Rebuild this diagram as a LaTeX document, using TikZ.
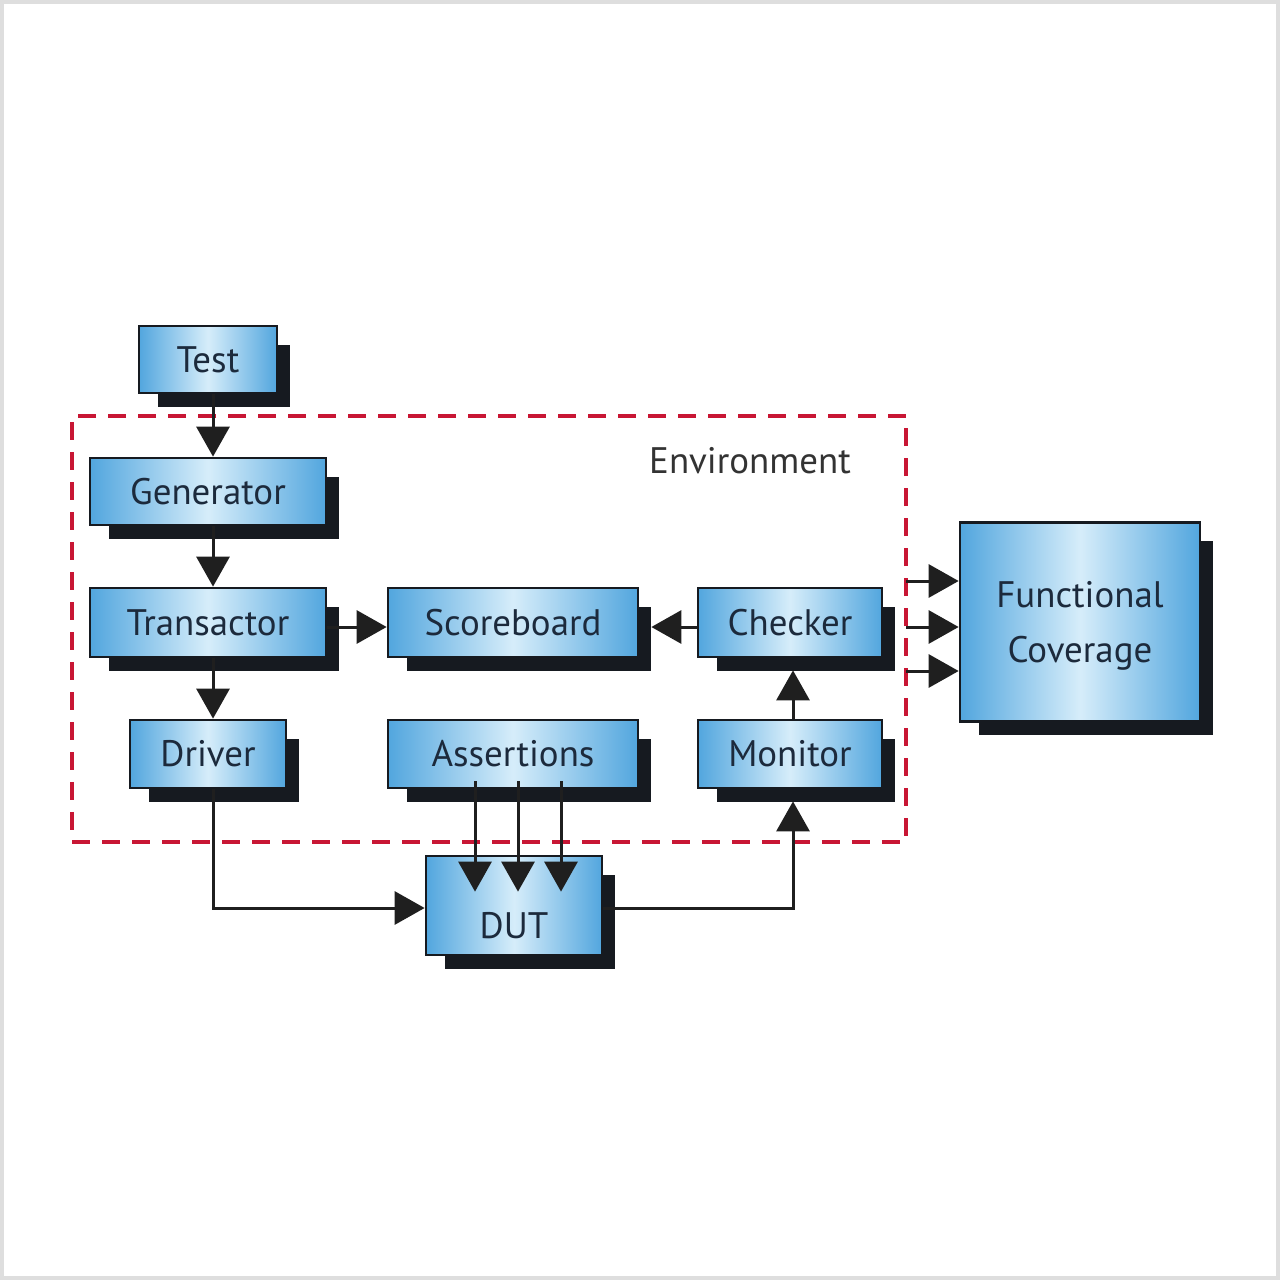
\documentclass[tikz,border=0pt]{standalone}
\usepackage{fontspec}
\setmainfont{PT Sans}
\usetikzlibrary{arrows.meta,backgrounds}
\definecolor{boxedge}{RGB}{82,166,222}
\definecolor{boxmid}{RGB}{214,237,250}
\definecolor{ink}{RGB}{28,42,60}
\definecolor{edgeline}{RGB}{22,26,32}
\definecolor{envred}{RGB}{200,22,52}
\definecolor{framegray}{RGB}{222,222,222}
\begin{document}
\begin{tikzpicture}[x=0.02cm,y=-0.02cm,
  blk/.style={draw=edgeline, line width=0.055cm, left color=boxedge, right color=boxedge, middle color=boxmid,
    text=ink, font=\fontsize{21}{24}\selectfont, inner sep=0pt, align=center},
  arr/.style={line width=0.06cm, draw=black!88, -{Triangle[length=0.6cm,width=0.66cm]}}]
\useasboundingbox (0,0) rectangle (1280,1280);
\draw[framegray, line width=0.09cm] (2,2) rectangle (1278,1278);

% environment
\node[draw=envred, line width=0.08cm, dash pattern=on 0.36cm off 0.24cm, minimum width=16.68cm, minimum height=8.52cm, inner sep=0pt] (envbox) at (489,629) {};
\node[text=black!80, font=\fontsize{21}{24}\selectfont] (envlbl) at (750,461) {Environment};

% boxes
\node[blk, minimum width=2.76cm, minimum height=1.34cm] (test) at (208,359.5) {Test};
\node[blk, minimum width=4.72cm, minimum height=1.34cm] (gen) at (208,491.5) {Generator};
\node[blk, minimum width=4.72cm, minimum height=1.38cm] (trans) at (208,622.5) {Transactor};
\node[blk, minimum width=5.0cm, minimum height=1.38cm] (score) at (513,622.5) {Scoreboard};
\node[blk, minimum width=3.68cm, minimum height=1.38cm] (check) at (790,622.5) {Checker};
\node[blk, minimum width=3.12cm, minimum height=1.36cm] (drv) at (208,754) {Driver};
\node[blk, minimum width=5.0cm, minimum height=1.36cm] (asrt) at (513,754) {Assertions};
\node[blk, minimum width=3.68cm, minimum height=1.36cm] (mon) at (790,754) {Monitor};
\node[blk, minimum width=3.52cm, minimum height=1.98cm, text height=1.3cm, text depth=0cm] (dut) at (514,905.5) {DUT};
\node[blk, minimum width=4.8cm, minimum height=3.98cm, text depth=0pt] (fc) at (1080,622) {Functional\\[0.26cm]Coverage};

% shadows
\begin{pgfonlayer}{background}
\foreach \n in {test,gen,trans,score,check,drv,asrt,mon,dut,fc}{
  \fill[edgeline] ([shift={(0.4cm,-0.4cm)}]\n.north west) rectangle ([shift={(0.23cm,-0.25cm)}]\n.south east);
}
\end{pgfonlayer}

% connectors
\draw[arr] ([xshift=0.1cm]test.south) -- ([xshift=0.1cm]gen.north);
\draw[arr] ([xshift=0.1cm]gen.south) -- ([xshift=0.1cm]trans.north);
\draw[arr] ([xshift=0.1cm]trans.south) -- ([xshift=0.1cm]drv.north);
\draw[arr] ([yshift=-0.09cm]trans.east) -- ([yshift=-0.09cm]score.west);
\draw[arr] ([yshift=-0.09cm]check.west) -- ([xshift=0.24cm,yshift=-0.09cm]score.east);
\draw[arr] ([xshift=0.06cm]mon.north) -- ([xshift=0.06cm,yshift=-0.24cm]check.south);
\draw[arr] ([xshift=0.1cm]drv.south) |- ([yshift=-0.05cm]dut.west);
\draw[arr] ([yshift=-0.05cm]dut.east) -| ([xshift=0.06cm,yshift=-0.24cm]mon.south);
\foreach \dx in {-0.76,0.1,0.96}{
  \draw[arr] ([xshift=\dx cm,yshift=0.16cm]asrt.south) -- ([xshift=\dx cm-0.02cm,yshift=-0.74cm]dut.north);
}
\coordinate (c1) at (906,581);
\coordinate (c2) at (906,627);
\coordinate (c3) at (906,671);
\draw[arr] (c1) -- (c1 -| fc.west);
\draw[arr] (c2) -- (c2 -| fc.west);
\draw[arr] (c3) -- (c3 -| fc.west);
\end{tikzpicture}
\end{document}
